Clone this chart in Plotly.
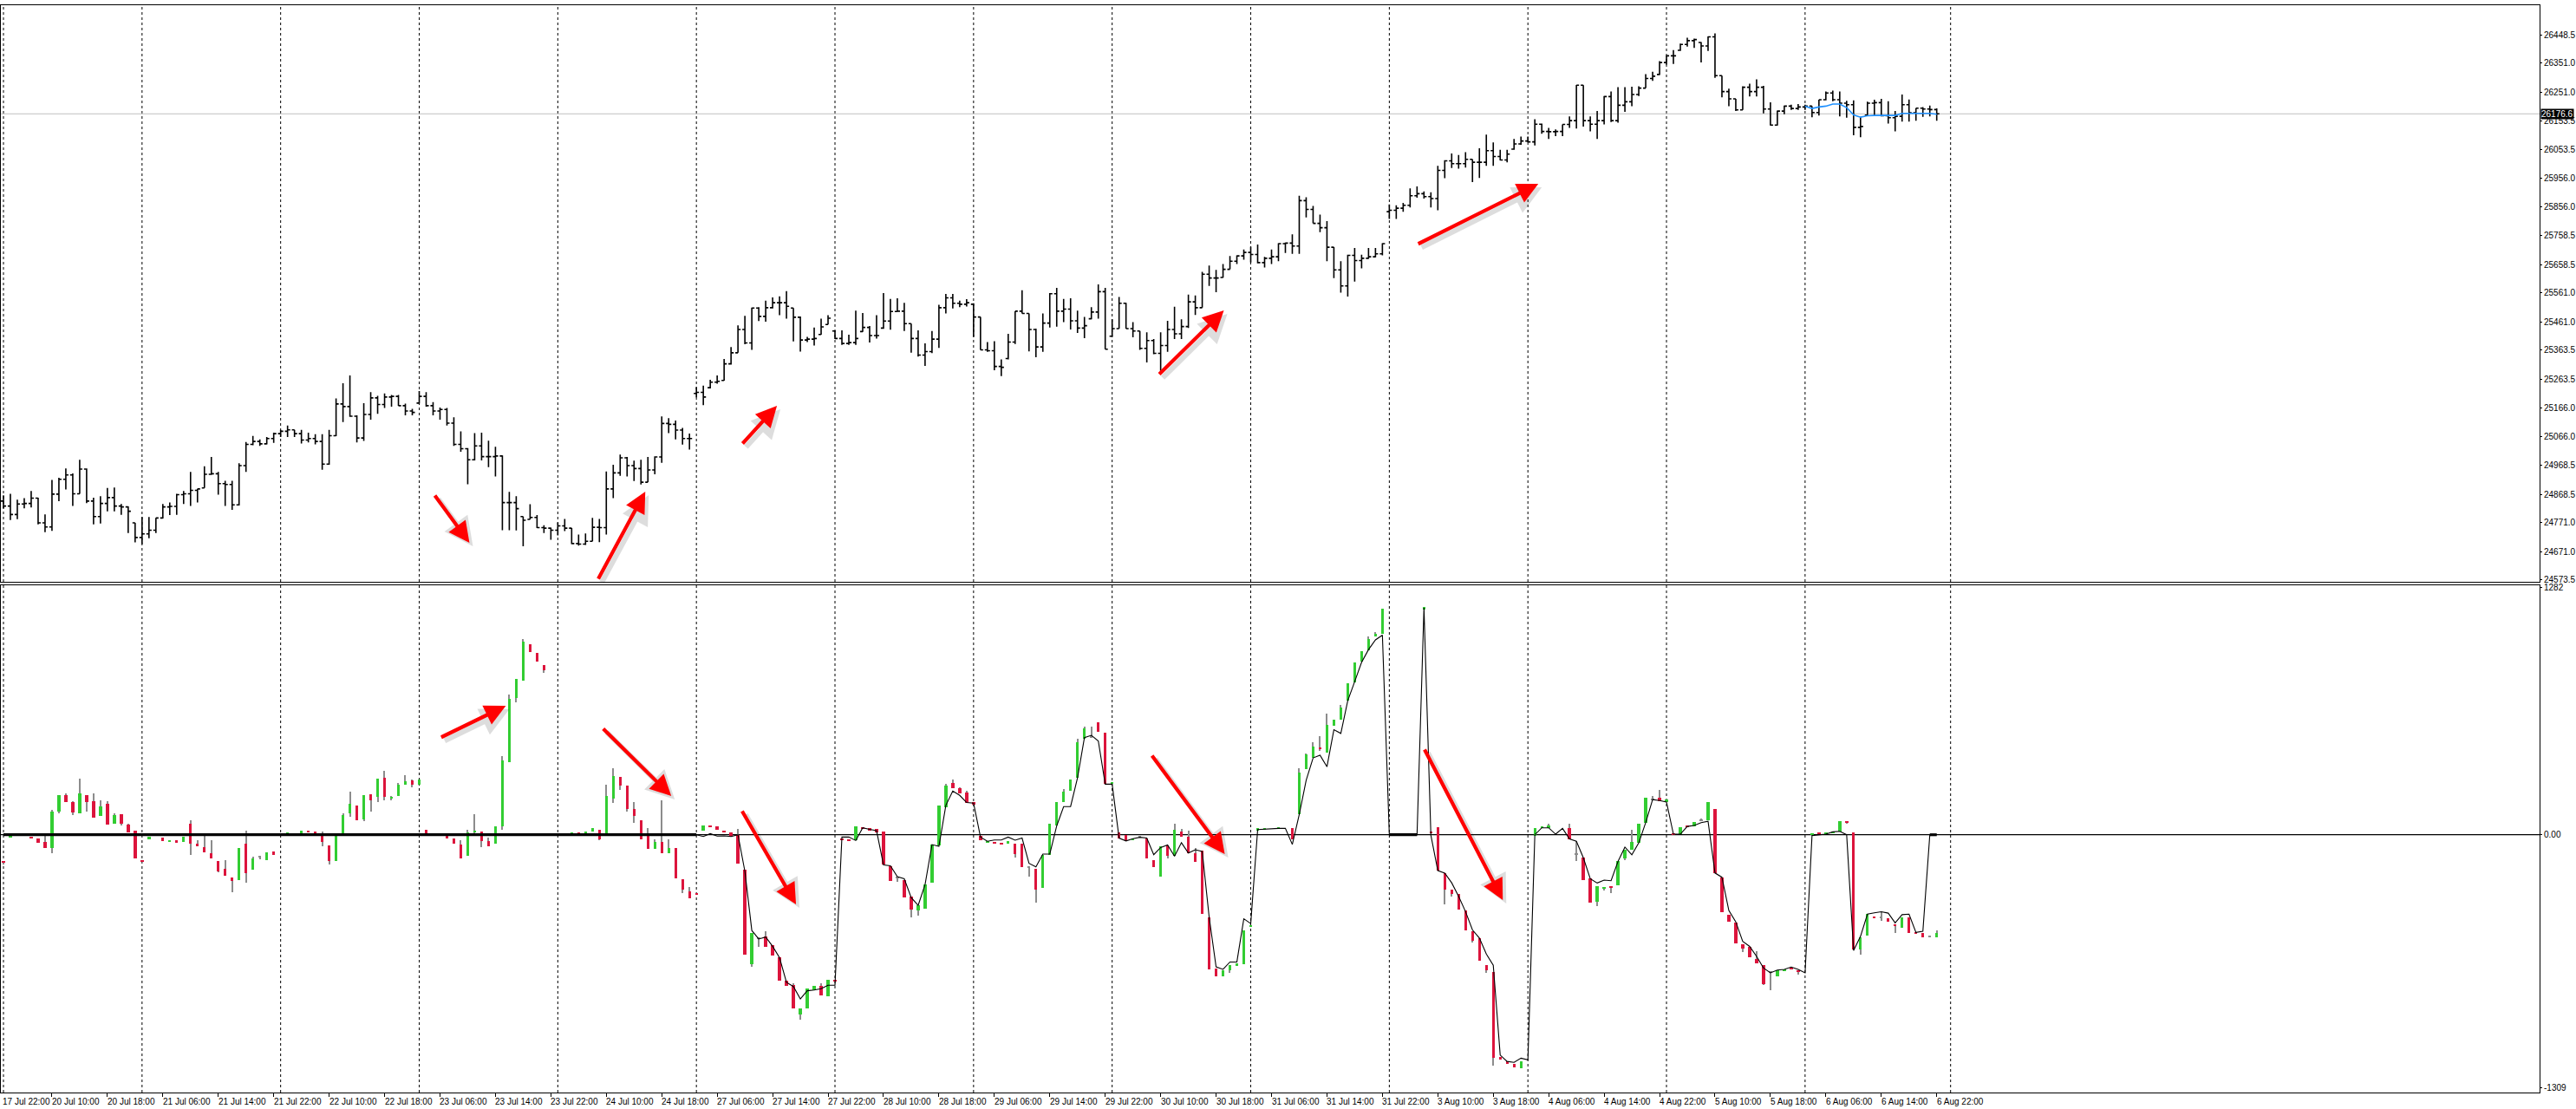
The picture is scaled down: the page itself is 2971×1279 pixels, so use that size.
import plotly.graph_objects as go

W, H = 2971, 1279
ML, MR, MT, MB = 0, 40, 6, 19
PW = W - ML - MR
PH = H - MT - MB

# ---------------- price panel data (hourly bars, 20 per session) ----------------
price_open = [
    24845, 24828, 24799, 24835, 24837, 24855, 24770, 24756, 24869, 24920, 24935, 24870, 24955, 24845, 24792, 24837, 24857, 24828, 24825, 24770,
    24720, 24732, 24745, 24787, 24825, 24827, 24867, 24870, 24882, 24890, 24937, 24939, 24905, 24902, 24832, 24967, 25040, 25050, 25042, 25060,
    25077, 25085, 25090, 25077, 25055, 25060, 25050, 24972, 25070, 25179, 25170, 25137, 25062, 25143, 25200, 25177, 25203, 25205, 25173, 25155,
    25182, 25205, 25173, 25155, 25160, 25113, 25040, 25025, 24987, 25035, 24998, 24998, 25000, 24840, 24840, 24792, 24782, 24789, 24754, 24752,
    24745, 24760, 24752, 24699, 24697, 24707, 24755, 24754, 24887, 24942, 24994, 24967, 24957, 24910, 24952, 24997, 25112, 25109, 25089, 25060,
    25215, 25219, 25235, 25254, 25260, 25317, 25355, 25435, 25389, 25509, 25480, 25510, 25527, 25527, 25509, 25477, 25399, 25402, 25418, 25452,
    25430, 25404, 25387, 25390, 25428, 25442, 25414, 25440, 25464, 25497, 25498, 25455, 25404, 25347, 25359, 25402, 25510, 25544, 25525, 25522,
    25522, 25478, 25365, 25362, 25308, 25335, 25392, 25498, 25490, 25435, 25375, 25457, 25558, 25498, 25505, 25465, 25440, 25472, 25495, 25565,
    25412, 25438, 25525, 25438, 25430, 25370, 25397, 25353, 25380, 25435, 25420, 25445, 25530, 25510, 25625, 25612, 25614, 25642, 25670, 25688,
    25700, 25693, 25665, 25680, 25685, 25730, 25732, 25722, 25878, 25848, 25800, 25785, 25718, 25640, 25585, 25690, 25672, 25680, 25685, 25695,
    25840, 25845, 25852, 25862, 25895, 25902, 25892, 25885, 25982, 26015, 26005, 26005, 26020, 26010, 26010, 26050, 26030, 26018, 26055, 26073,
    26083, 26080, 26141, 26116, 26115, 26116, 26140, 26153, 26275, 26153, 26141, 26153, 26236, 26153, 26206, 26218, 26243, 26265, 26298, 26312,
    26353, 26376, 26395, 26415, 26428, 26422, 26410, 26441, 26308, 26253, 26228, 26190, 26268, 26253, 26268, 26193, 26138, 26186, 26203, 26195,
    26200, 26203, 26181, 26225, 26248, 26225, 26213, 26208, 26130, 26172, 26213, 26215, 26170, 26163, 26168, 26208, 26180, 26196, 26193, 26191,
]
price_high = [
    24865, 24870, 24850, 24855, 24880, 24857, 24799, 24918, 24925, 24957, 24940, 24987, 24957, 24857, 24862, 24890, 24892, 24835, 24827, 24770,
    24790, 24790, 24787, 24835, 24840, 24870, 24880, 24945, 24887, 24965, 24997, 24945, 24915, 24915, 24975, 25048, 25069, 25057, 25065, 25080,
    25090, 25105, 25090, 25090, 25080, 25075, 25075, 25090, 25198, 25250, 25277, 25140, 25182, 25220, 25207, 25215, 25210, 25210, 25180, 25162,
    25223, 25220, 25185, 25167, 25165, 25133, 25085, 25027, 25079, 25080, 25053, 25032, 25002, 24877, 24862, 24792, 24834, 24797, 24762, 24754,
    24772, 24784, 24752, 24730, 24734, 24787, 24784, 24947, 24970, 25005, 24997, 24984, 24987, 24997, 24999, 25136, 25130, 25122, 25097, 25077,
    25237, 25242, 25262, 25277, 25334, 25375, 25449, 25482, 25510, 25512, 25534, 25545, 25549, 25567, 25509, 25480, 25410, 25442, 25472, 25484,
    25432, 25432, 25417, 25500, 25492, 25447, 25484, 25560, 25540, 25542, 25527, 25455, 25432, 25387, 25430, 25520, 25557, 25557, 25534, 25539,
    25525, 25478, 25392, 25395, 25332, 25420, 25498, 25570, 25490, 25438, 25490, 25560, 25578, 25540, 25542, 25500, 25478, 25512, 25590, 25578,
    25470, 25547, 25527, 25460, 25430, 25425, 25402, 25425, 25465, 25513, 25470, 25555, 25552, 25633, 25655, 25640, 25660, 25688, 25690, 25710,
    25720, 25727, 25685, 25710, 25732, 25734, 25762, 25895, 25890, 25860, 25830, 25808, 25718, 25670, 25692, 25715, 25692, 25715, 25715, 25732,
    25865, 25862, 25870, 25920, 25927, 25910, 25907, 25998, 26017, 26040, 26035, 26045, 26020, 26058, 26105, 26078, 26053, 26053, 26090, 26098,
    26098, 26158, 26143, 26128, 26123, 26140, 26168, 26276, 26275, 26168, 26186, 26238, 26253, 26268, 26268, 26270, 26271, 26313, 26321, 26358,
    26378, 26396, 26418, 26438, 26435, 26423, 26443, 26453, 26308, 26263, 26228, 26271, 26280, 26295, 26273, 26216, 26188, 26205, 26208, 26210,
    26208, 26203, 26225, 26253, 26256, 26253, 26221, 26223, 26166, 26218, 26225, 26228, 26220, 26186, 26243, 26226, 26196, 26200, 26205, 26195,
]
price_low = [
    24820, 24780, 24783, 24820, 24823, 24765, 24738, 24743, 24845, 24885, 24828, 24870, 24838, 24765, 24768, 24810, 24810, 24798, 24735, 24703,
    24697, 24717, 24735, 24785, 24797, 24798, 24835, 24828, 24840, 24890, 24935, 24867, 24828, 24815, 24830, 24945, 25037, 25035, 25040, 25045,
    25065, 25065, 25065, 25043, 25047, 25040, 24953, 24970, 25068, 25117, 25135, 25047, 25052, 25125, 25145, 25165, 25170, 25173, 25140, 25140,
    25180, 25170, 25140, 25125, 25105, 25035, 25015, 24903, 24985, 24985, 24962, 24930, 24745, 24745, 24744, 24690, 24782, 24752, 24735, 24712,
    24727, 24742, 24697, 24692, 24694, 24707, 24704, 24730, 24855, 24932, 24930, 24914, 24902, 24910, 24937, 24977, 25079, 25057, 25039, 25022,
    25202, 25175, 25232, 25249, 25259, 25314, 25355, 25384, 25365, 25464, 25462, 25507, 25484, 25472, 25394, 25359, 25392, 25380, 25417, 25452,
    25402, 25382, 25382, 25382, 25427, 25390, 25404, 25437, 25434, 25497, 25430, 25355, 25342, 25310, 25354, 25372, 25490, 25507, 25512, 25514,
    25410, 25365, 25358, 25295, 25275, 25332, 25385, 25490, 25360, 25340, 25358, 25442, 25445, 25460, 25435, 25423, 25405, 25470, 25472, 25367,
    25410, 25438, 25438, 25408, 25365, 25322, 25350, 25293, 25358, 25402, 25402, 25440, 25485, 25510, 25585, 25563, 25613, 25642, 25660, 25675,
    25665, 25662, 25648, 25660, 25670, 25698, 25695, 25695, 25820, 25800, 25770, 25670, 25612, 25562, 25548, 25600, 25645, 25678, 25683, 25690,
    25815, 25815, 25840, 25855, 25888, 25885, 25855, 25845, 25955, 25990, 25988, 25992, 25942, 25956, 25998, 25998, 26016, 26010, 26053, 26070,
    26078, 26068, 26108, 26090, 26100, 26100, 26128, 26126, 26133, 26116, 26090, 26140, 26148, 26146, 26183, 26203, 26238, 26265, 26290, 26310,
    26346, 26348, 26393, 26408, 26403, 26353, 26393, 26300, 26233, 26203, 26186, 26190, 26236, 26236, 26178, 26136, 26136, 26175, 26190, 26190,
    26190, 26165, 26171, 26223, 26220, 26168, 26163, 26103, 26096, 26170, 26170, 26168, 26143, 26116, 26150, 26150, 26153, 26166, 26168, 26153,
]
price_close = [
    24828, 24799, 24835, 24837, 24855, 24770, 24756, 24869, 24920, 24935, 24870, 24955, 24845, 24792, 24837, 24857, 24828, 24825, 24810, 24720,
    24732, 24745, 24787, 24825, 24827, 24867, 24870, 24882, 24887, 24937, 24939, 24905, 24902, 24832, 24967, 25040, 25050, 25042, 25060, 25077,
    25085, 25090, 25077, 25055, 25060, 25050, 24972, 25070, 25179, 25170, 25137, 25062, 25143, 25200, 25177, 25203, 25205, 25173, 25155, 25150,
    25205, 25173, 25155, 25160, 25113, 25040, 25025, 24987, 25035, 24998, 24998, 25000, 24840, 24840, 24819, 24779, 24789, 24754, 24752, 24745,
    24760, 24752, 24699, 24697, 24707, 24755, 24754, 24887, 24942, 24994, 24967, 24957, 24910, 24952, 24997, 25112, 25109, 25089, 25060, 25060,
    25219, 25203, 25254, 25257, 25317, 25355, 25435, 25389, 25509, 25480, 25510, 25527, 25527, 25515, 25477, 25399, 25402, 25404, 25444, 25474,
    25404, 25387, 25390, 25404, 25442, 25414, 25414, 25464, 25497, 25498, 25455, 25404, 25347, 25359, 25402, 25510, 25544, 25525, 25522, 25527,
    25478, 25365, 25362, 25308, 25305, 25392, 25498, 25490, 25435, 25375, 25457, 25558, 25498, 25505, 25465, 25440, 25448, 25495, 25565, 25367,
    25438, 25525, 25438, 25430, 25370, 25397, 25353, 25380, 25435, 25420, 25445, 25530, 25510, 25625, 25612, 25612, 25642, 25670, 25688, 25700,
    25693, 25665, 25680, 25685, 25730, 25732, 25722, 25878, 25848, 25800, 25785, 25718, 25640, 25585, 25690, 25672, 25680, 25685, 25695, 25730,
    25845, 25852, 25862, 25895, 25902, 25892, 25885, 25982, 26015, 26005, 26005, 26020, 26010, 26010, 26050, 26030, 26018, 26038, 26073, 26083,
    26080, 26141, 26116, 26115, 26116, 26140, 26153, 26275, 26153, 26141, 26153, 26236, 26153, 26206, 26218, 26243, 26265, 26298, 26306, 26353,
    26376, 26376, 26415, 26428, 26432, 26410, 26441, 26308, 26253, 26228, 26190, 26268, 26253, 26268, 26193, 26138, 26186, 26203, 26195, 26200,
    26203, 26181, 26225, 26248, 26225, 26213, 26208, 26130, 26133, 26213, 26215, 26170, 26163, 26168, 26208, 26180, 26196, 26193, 26191, 26176.6,
]
# blue moving line over the last session (bars 260..279)
blue_start = 260
blue_line = [26203, 26195, 26200, 26203, 26210, 26210, 26198, 26173, 26165, 26170,
             26171, 26171, 26173, 26171, 26178, 26178, 26178, 26178, 26178, 26175]

price_ticks = [26448.5, 26351.0, 26251.0, 26153.5, 26053.5, 25956.0, 25856.0, 25758.5, 25658.5, 25561.0,
               25461.0, 25363.5, 25263.5, 25166.0, 25066.0, 24968.5, 24868.5, 24771.0, 24671.0, 24573.5]

# ---------------- indicator panel data ----------------
N = None
ind_open = [
    -135, -13, N, N, -10, -18, -37, -67, 121, 204, 168, 112, 204, 173, 98, 159, 58, 106, 54, 21,
    -135, -22, N, -15, -36, -28, -36, 57, -46, -63, -95, -135, -177, -222, -237, -46, -179, -118, -130, -88,
    N, 3, N, 9, 21, 16, 6, -55, -135, 2, 110, 153, 79, 208, 195, 293, 191, 200, 258, 280,
    259, 25, N, N, -6, -21, -51, -107, 12, 16, -33, -46, 43, 378, 706, 800, 985, 940, 880, N,
    N, 7, 4, 7, 9, 15, 25, 3, 189, 301, 253, 134, 73, 0, -74, -36, -97, -68, -229, -295,
    -301, 22, 48, 43, 21, 12, 0, -179, -672, -540, -526, -573, -634, -756, -779, -930, -901, -804, -782, -838,
    -750, -18, -27, -30, 37, 33, 30, 18, -161, -225, -235, -322, -391, -384, -250, -57, 144, 268, 241, 219,
    170, -7, -39, -42, -45, -48, -45, -45, -170, -178, -277, -106, 46, 171, 229, 295, 495, 505, 581, 528,
    268, 13, -3, -28, -13, -20, -131, -219, -53, -111, 18, -12, -95, -83, -427, -692, -734, -700, -676, -670,
    -477, 25, 27, N, 33, N, 33, 105, 342, 398, 453, 425, 564, 594, 694, 790, 896, 956, 1026, 1042,
    N, N, N, N, N, 1170, 15, 38, -199, -286, -305, -393, -501, -535, -676, -709, -1152, -1174, -1185, -1207,
    N, -4, 36, 36, N, N, 36, -104, -119, -228, -347, -276, -265, -262, -124, -76, -42, 60, 180, 192,
    170, 9, 3, 45, 45, 75, 73, 134, -223, -414, -456, -567, -581, -642, -675, -715, -731, -707, -689, -700,
    N, 0, 13, 6, 10, 18, 70, 13, -593, -521, -426, -428, -433, -465, -481, -426, -508, -509, -530, -530,
]
ind_close = [
    -147, -3, N, N, -18, -40, -70, 118, 204, 170, 116, 213, 170, 89, 146, 54, 101, 57, 13, -121,
    -140, -10, N, -31, -28, -40, -10, -46, -58, -89, -121, -189, -214, -241, -68, -201, -122, -118, -92, -103,
    N, 12, N, 21, 16, 9, -36, -135, -6, 101, 159, 76, 205, 179, 289, 195, 195, 258, 275, 259,
    284, 2, N, N, -18, -48, -121, 12, 21, -31, -58, 43, 386, 704, 808, 1000, 945, 895, 850, N,
    N, 3, 7, 4, 13, 36, -22, 201, 304, 253, 135, 97, -25, -74, -39, -94, -68, -226, -286, -329,
    -307, 49, 42, 24, 16, -12, -150, -619, -508, -540, -581, -625, -756, -782, -901, -901, -794, -782, -831, -752,
    -756, -24, -30, 42, 28, 25, 10, -153, -240, -225, -325, -387, -366, -258, -49, 152, 256, 241, 216, 164,
    155, -30, -34, -46, -49, -33, -100, -169, -170, -286, -106, 55, 171, 224, 284, 481, 549, 505, 535, 262,
    273, -17, -32, -20, -13, -123, -166, -61, -111, 27, -12, -95, -139, -410, -697, -734, -700, -676, -668, -493,
    -468, 33, 30, N, 40, N, -23, 324, 415, 458, 445, 569, 598, 661, 785, 893, 951, 1013, 1042, 1172,
    N, N, N, N, N, 1178, 8, -186, -286, -305, -388, -493, -551, -651, -700, -1157, -1165, -1185, -1205, -1172,
    N, 36, 40, 48, N, N, -24, -104, -235, -351, -265, -270, -272, -138, -76, -39, 58, 192, 180, 174,
    185, 3, 40, 40, 66, 75, 170, -198, -402, -451, -563, -590, -634, -667, -774, -715, -704, -697, -695, -712,
    N, 9, 6, 13, 18, 70, 64, -593, -530, -411, -432, -428, -451, -470, -429, -508, -513, -530, -530, -509,
]
# wick extremes where the shadow goes beyond the body (None = no shadow)
ind_high = [
    N, N, N, N, N, N, -6, 128, N, 213, 173, 289, N, 213, 177, 173, 110, N, 58, N,
    N, N, N, N, N, N, N, 74, -28, -3, -28, N, -132, N, N, 21, -115, -110, N, N,
    N, N, N, N, N, N, 16, N, N, 109, 222, N, N, N, N, 329, 202, 270, 307, 284,
    N, N, N, N, N, N, -28, 24, 106, N, -16, N, 408, 728, N, 1012, N, N, N, N,
    N, N, N, N, N, N, N, 259, 345, N, N, 170, N, 33, -22, 177, -22, N, N, -270,
    N, N, N, N, N, N, 28, N, N, -533, -500, N, N, N, -768, N, N, N, -771, N,
    N, N, N, N, N, N, N, N, N, -220, N, N, N, N, N, N, 264, 286, 244, 229,
    N, N, N, N, N, N, N, N, -169, N, N, N, N, 237, N, 499, 561, 561, N, N,
    N, N, N, N, N, N, N, N, N, 55, 30, 22, -70, N, N, N, N, N, N, N,
    N, N, N, N, N, N, N, 345, 420, 478, 511, 627, N, 674, N, N, N, 1025, 1050, N,
    N, N, N, N, N, N, N, N, N, N, N, N, N, N, N, N, N, N, N, N,
    N, N, N, 55, N, N, 55, -34, N, N, N, N, N, N, N, 25, N, N, 199, 230,
    N, N, N, N, N, 85, N, N, N, N, N, N, N, -601, N, N, N, N, N, N,
    N, N, N, N, N, N, N, N, N, N, N, -402, N, N, N, N, N, N, N, -496,
]
ind_low = [
    -155, N, N, N, N, N, N, -95, 113, N, 103, N, 121, N, N, N, N, 49, N, N,
    N, N, N, N, N, N, N, -103, N, N, N, -195, N, -299, N, -249, N, -125, N, N,
    N, N, N, N, N, N, -58, -152, N, N, 94, N, 71, 121, 170, 177, 180, N, N, 247,
    N, N, N, N, N, N, N, N, 2, -63, N, N, 27, N, 686, N, N, N, 840, N,
    N, N, N, N, N, N, -27, N, 164, 234, 119, 60, N, N, N, N, N, N, -302, N,
    N, N, N, N, N, N, N, N, -682, -580, N, N, N, N, N, -957, N, N, N, N,
    N, N, N, N, N, N, N, N, N, -246, N, -429, -417, N, N, N, N, N, N, N,
    N, N, N, N, N, N, -116, N, -219, -352, N, N, N, N, N, N, N, 500, N, N,
    N, N, N, N, N, N, N, N, -124, N, N, N, N, N, N, N, N, -717, N, N,
    N, N, N, N, N, N, N, N, N, N, 436, N, N, N, N, N, N, N, N, N,
    N, N, N, N, N, N, N, N, -361, -318, N, N, -560, N, -717, -1198, N, N, N, N,
    N, N, N, N, N, N, N, -138, N, N, -370, -290, -302, N, -131, N, N, N, 178, N,
    N, N, N, N, N, N, N, N, N, N, N, -608, N, N, -780, -804, N, N, N, -724,
    N, N, N, N, N, N, 55, N, -622, N, N, -444, N, -508, N, N, N, N, N, N,
]
ind_line = [
    0, 0, 0, 0, 0, 0, 0, 0, 0, 0, 0, 0, 0, 0, 0, 0, 0, 0, 0, 0,
    0, 0, 0, 0, 0, 0, 0, 0, 0, 0, 0, 0, 0, 0, 0, 0, 0, 0, 0, 0,
    0, 0, 0, 0, 0, 0, 0, 0, 0, 0, 0, 0, 0, 0, 0, 0, 0, 0, 0, 0,
    0, 0, 0, 0, 0, 0, 0, 0, 0, 0, 0, 0, 0, 0, 0, 0, 0, 0, 0, 0,
    0, 0, 0, 0, 0, 0, 0, 0, 0, 0, 0, 0, 0, 0, 0, 0, 0, 0, 0, 0,
    0, -9, 6, -7, -6, -9, 0, -190, -496, -540, -530, -578, -637, -764, -786, -850, -808, -804, -797, -779,
    -779, -12, -12, -30, 36, 28, 21, -156, -161, -217, -228, -325, -366, -258, -51, -60, 152, 226, 204, 167,
    164, -12, -34, -27, -27, -12, -28, -17, -148, -166, -100, -100, 46, 146, 146, 295, 503, 515, 486, 262,
    262, -17, -32, -20, -13, -17, -103, -66, -53, -111, -41, -95, -78, -86, -427, -684, -697, -659, -659, -435,
    -460, 27, 30, 30, 33, 33, -50, 105, 282, 398, 412, 352, 544, 525, 694, 793, 893, 959, 1009, 1034,
    0, 0, 0, 0, 0, 1175, -3, -186, -199, -249, -319, -398, -493, -535, -618, -676, -1141, -1174, -1179, -1157,
    -1166, 0, 36, 36, 3, 33, -22, -34, -119, -228, -250, -235, -238, -138, -64, -104, -42, 63, 182, 177,
    170, 3, 3, 43, 48, 63, 70, -198, -220, -392, -451, -552, -578, -630, -690, -715, -701, -697, -685, -697,
    -715, -4, 0, 3, 15, 18, 0, -600, -526, -411, -404, -399, -406, -456, -414, -411, -506, -500, 0, 0,
]
ind_ticks = [1282, 0, -1309]
ind_ticktext = ["1282", "0.00", "-1309"]

# ---------------- time axis ----------------
label_bars = [-1, 7, 15, 23, 31, 39, 47, 55, 63, 71, 79, 87, 95, 103, 111, 119, 127, 135,
              143, 151, 159, 167, 175, 183, 191, 199, 207, 215, 223, 231, 239, 247, 255, 263, 271, 279]
label_text = ["17 Jul 22:00", "20 Jul 10:00", "20 Jul 18:00", "21 Jul 06:00", "21 Jul 14:00", "21 Jul 22:00",
              "22 Jul 10:00", "22 Jul 18:00", "23 Jul 06:00", "23 Jul 14:00", "23 Jul 22:00", "24 Jul 10:00",
              "24 Jul 18:00", "27 Jul 06:00", "27 Jul 14:00", "27 Jul 22:00", "28 Jul 10:00", "28 Jul 18:00",
              "29 Jul 06:00", "29 Jul 14:00", "29 Jul 22:00", "30 Jul 10:00", "30 Jul 18:00", "31 Jul 06:00",
              "31 Jul 14:00", "31 Jul 22:00", "3 Aug 10:00", "3 Aug 18:00", "4 Aug 06:00", "4 Aug 14:00",
              "4 Aug 22:00", "5 Aug 10:00", "5 Aug 18:00", "6 Aug 06:00", "6 Aug 14:00", "6 Aug 22:00"]
day_start_bars = [0, 20, 40, 60, 80, 100, 120, 140, 160, 180, 200, 220, 240, 260, 281]

bars = list(range(len(price_close)))
BAR_PX = 8.0  # screen pixels per bar

# ---------------- figure ----------------
fig = go.Figure()

fig.add_trace(go.Ohlc(
    x=bars, open=price_open, high=price_high, low=price_low, close=price_close,
    increasing=dict(line=dict(color="black", width=1.6)),
    decreasing=dict(line=dict(color="black", width=1.6)),
    tickwidth=0.38, xaxis="x", yaxis="y", hoverinfo="skip", showlegend=False))

fig.add_trace(go.Scatter(
    x=bars[blue_start:blue_start + len(blue_line)], y=blue_line, mode="lines",
    line=dict(color="#1E90FF", width=1.6), xaxis="x", yaxis="y", hoverinfo="skip", showlegend=False))

# indicator shadows
wx, wb, wh = [], [], []
for i, (o, c, hi, lo) in enumerate(zip(ind_open, ind_close, ind_high, ind_low)):
    if o is None:
        continue
    top = hi if hi is not None else max(o, c)
    bot = lo if lo is not None else min(o, c)
    if top > bot:
        wx.append(i); wb.append(bot); wh.append(top - bot)
fig.add_trace(go.Bar(x=wx, y=wh, base=wb, width=0.14, marker=dict(color="#8c8c8c", line=dict(width=0)),
                     xaxis="x2", yaxis="y2", hoverinfo="skip", showlegend=False))

# indicator bodies
bx, bb, bh, bc = [], [], [], []
for i, (o, c) in enumerate(zip(ind_open, ind_close)):
    if o is None:
        continue
    bx.append(i)
    bb.append(min(o, c))
    bh.append(max(abs(c - o), 5))
    bc.append("#32CD32" if c > o else ("#DC143C" if c < o else "#8c8c8c"))
fig.add_trace(go.Bar(x=bx, y=bh, base=bb, width=0.42, marker=dict(color=bc, line=dict(width=0)),
                     xaxis="x2", yaxis="y2", hoverinfo="skip", showlegend=False))

# indicator line
fig.add_trace(go.Scatter(x=bars, y=ind_line, mode="lines", line=dict(color="black", width=1.1),
                         xaxis="x2", yaxis="y2", hoverinfo="skip", showlegend=False))
zero_run = [v if v == 0 else None for v in ind_line]
fig.add_trace(go.Scatter(x=bars, y=zero_run, mode="lines", line=dict(color="black", width=3.2),
                         connectgaps=False, xaxis="x2", yaxis="y2", hoverinfo="skip", showlegend=False))

# ---------------- layout ----------------
price_bottom = (H - MB - 671) / PH
ind_top = (H - MB - 675) / PH
font_axis = dict(family="Liberation Sans, Arial, sans-serif", size=10, color="black")

xr = [-0.375, (PW - 3) / BAR_PX]
fig.update_layout(
    width=W, height=H,
    margin=dict(l=ML, r=MR, t=MT, b=MB),
    paper_bgcolor="white", plot_bgcolor="white",
    barmode="overlay", bargap=0, showlegend=False,
    font=font_axis,
    xaxis=dict(domain=[0, 1], range=xr, anchor="y", showticklabels=False, ticks="",
               showgrid=False, zeroline=False, showline=True, mirror=True, linecolor="black",
               linewidth=1, rangeslider=dict(visible=False), fixedrange=True),
    yaxis=dict(domain=[price_bottom, 1], range=[24567.5, 26550], side="right", anchor="x",
               tickvals=price_ticks, ticktext=["%.1f" % v for v in price_ticks],
               ticks="outside", ticklen=2, tickcolor="black", tickfont=font_axis,
               showgrid=False, zeroline=False, showline=True, mirror=True, linecolor="black", linewidth=1),
    xaxis2=dict(domain=[0, 1], range=xr, anchor="y2", matches="x", showticklabels=False,
                tickvals=label_bars, ticks="outside", ticklen=4, tickcolor="black",
                showgrid=False, zeroline=False, showline=True, mirror=True, linecolor="black", linewidth=1),
    yaxis2=dict(domain=[0, ind_top], range=[-1335, 1292], side="right", anchor="x2",
                tickvals=ind_ticks, ticktext=ind_ticktext, ticks="outside", ticklen=2,
                tickcolor="black", tickfont=font_axis,
                showgrid=False, zeroline=False, showline=True, mirror=True, linecolor="black", linewidth=1),
)

shapes = []
for d in day_start_bars:
    for xref, yref in (("x", "y domain"), ("x2", "y2 domain")):
        shapes.append(dict(type="line", xref=xref, yref=yref, x0=d, x1=d, y0=0, y1=1,
                           line=dict(color="black", width=1, dash="3px,3px"), layer="below"))
shapes.append(dict(type="line", xref="x domain", yref="y", x0=0, x1=1,
                   y0=price_close[-1], y1=price_close[-1], line=dict(color="#C0C0C0", width=1), layer="below"))
shapes.append(dict(type="line", xref="x2 domain", yref="y2", x0=0, x1=1, y0=0, y1=0,
                   line=dict(color="black", width=1.2), layer="below"))
fig.update_layout(shapes=shapes)

annotations = []
for b, t in zip(label_bars, label_text):
    if b < xr[0]:
        # label of a bar just left of the visible range: keep it fully readable at the left edge
        annotations.append(dict(x=xr[0], xref="x2", y=0, yref="paper", yanchor="top", xanchor="left",
                                yshift=-3, xshift=0, text=t, showarrow=False, font=font_axis))
    else:
        annotations.append(dict(x=b, xref="x2", y=0, yref="paper", yanchor="top", xanchor="left",
                                yshift=-3, xshift=-2, text=t, showarrow=False, font=font_axis))
annotations.append(dict(x=1, xref="paper", y=price_close[-1], yref="y", xanchor="left", yanchor="middle",
                        xshift=1, text="%.1f" % price_close[-1], showarrow=False, bgcolor="black",
                        borderpad=0, font=dict(family=font_axis["family"], size=10, color="white")))


def to_paper(px, py):
    return (px - ML) / PW, (H - MB - py) / PH


# hand-drawn red arrows (tail x, tail y, head x, head y) in screen pixels
arrows = [(500, 570, 541, 626), (689, 669, 744, 567), (855, 513, 896, 468),
          (1336, 433, 1412, 358), (1635, 282, 1775, 212),
          (507, 851, 583, 814), (694, 839, 774, 918), (855, 934, 918, 1043),
          (1328, 870, 1413, 985), (1643, 863, 1734, 1038)]
for tx, ty, hx, hy in arrows:
    x, y = to_paper(hx, hy)
    annotations.append(dict(x=x, y=y, xref="paper", yref="paper", ax=tx - hx, ay=ty - hy,
                            axref="pixel", ayref="pixel", text="", showarrow=True,
                            arrowhead=2, arrowsize=1.1, arrowwidth=6, xshift=4, yshift=-4,
                            arrowcolor="rgba(0,0,0,0.13)"))
    annotations.append(dict(x=x, y=y, xref="paper", yref="paper", ax=tx - hx, ay=ty - hy,
                            axref="pixel", ayref="pixel", text="", showarrow=True,
                            arrowhead=2, arrowsize=1.15, arrowwidth=4.2, arrowcolor="#FF0000"))
fig.update_layout(annotations=annotations)

fig.write_html("out.html", config={"displayModeBar": False},
               post_script="document.body.style.margin='0';document.body.style.overflow='hidden';")
